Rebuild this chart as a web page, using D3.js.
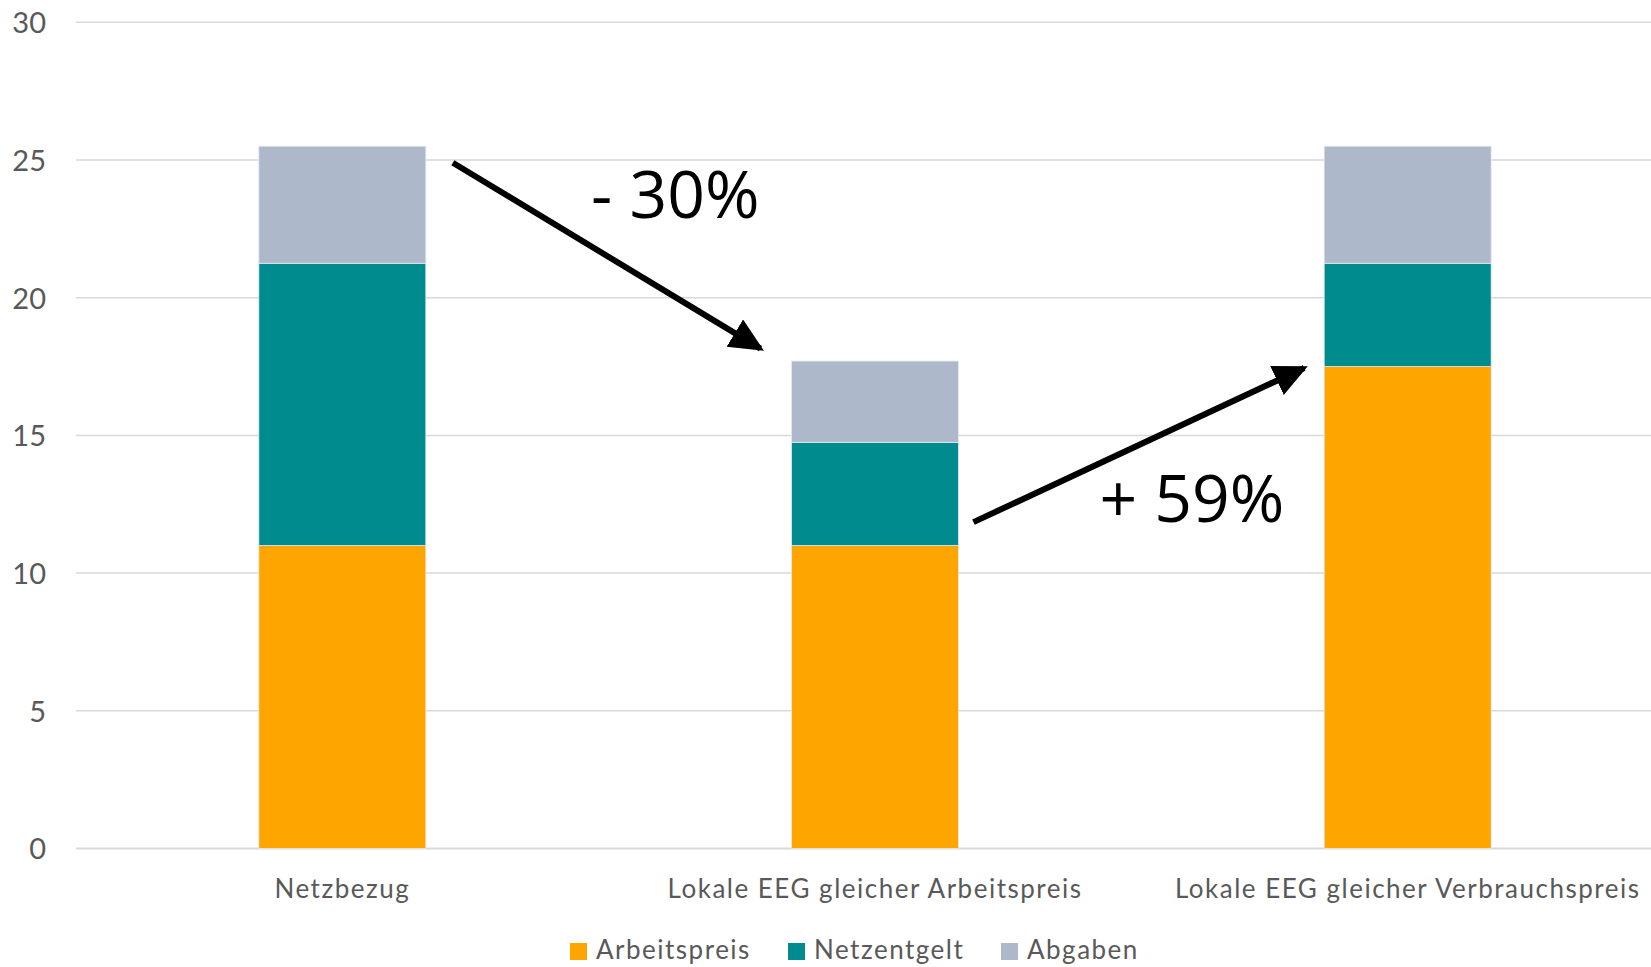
<!DOCTYPE html>
<html><head><meta charset="utf-8">
<script src="https://cdn.jsdelivr.net/npm/d3@7"></script>
<style>html,body{margin:0;padding:0;background:#fff;overflow:hidden}</style>
</head><body>
<svg id="chart" width="1651" height="967"></svg>
<script>
const categories = ["Netzbezug", "Lokale EEG gleicher Arbeitspreis", "Lokale EEG gleicher Verbrauchspreis"];
const seriesNames = ["Arbeitspreis", "Netzentgelt", "Abgaben"];
const arbeitspreis = [11.0, 11.0, 17.5];
const netzentgelt = [10.25, 3.75, 3.75];
const abgaben = [4.25, 2.95, 4.25];
const yTicks = [0, 5, 10, 15, 20, 25, 30];
const colors = ["#FFA500", "#008B8F", "#ADB9CA"];
// annotations: position in category-index units, value units
const annotations = [
  {label: "- 30%", xi: 0.625, y: 22.9},
  {label: "+ 59%", xi: 1.595, y: 11.85}
];
const arrows = [
  {fromI: 0, fromV: 24.9, toI: 1, toV: 18.15},
  {fromI: 1, fromV: 11.85, toI: 2, toV: 17.45}
];

const svg = d3.select("#chart");
const mLeft = 76, mRight = 1674, mTop = 22.3, mBottom = 848.5;
const p = 0.6865;
const x = d3.scaleBand().domain(categories).range([mLeft, mRight]).paddingInner(p).paddingOuter(p/2);
const y = d3.scaleLinear().domain([0, 30]).range([mBottom, mTop]);
const cx = i => x(categories[0]) + x.bandwidth()/2 + i * x.step();

// gridlines
svg.append("g").selectAll("line").data(yTicks).join("line")
  .attr("x1", mLeft).attr("x2", 1651)
  .attr("y1", d => y(d)).attr("y2", d => y(d))
  .attr("stroke", "#d9d9d9").attr("stroke-width", d => d === 0 ? 2 : 1.5);

// y-axis labels
const yAxis = d3.axisLeft(y).tickValues(yTicks).tickSize(0).tickPadding(0);
const ya = svg.append("g").attr("transform", "translate(46,0)").call(yAxis);
ya.select(".domain").remove();
ya.selectAll("text").attr("font-family", "Lato, 'Open Sans', sans-serif").attr("font-size", 29)
  .attr("fill", "#595959").attr("dy", "0.36em");

// stacked data
const table = categories.map((c, i) => ({cat: c, Arbeitspreis: arbeitspreis[i], Netzentgelt: netzentgelt[i], Abgaben: abgaben[i]}));
const stack = d3.stack().keys(seriesNames)(table);
svg.append("g").selectAll("g").data(stack).join("g")
  .attr("fill", (d, i) => colors[i])
  .selectAll("rect").data(d => d).join("rect")
  .attr("x", d => x(d.data.cat)).attr("width", x.bandwidth())
  .attr("y", d => y(d[1])).attr("height", d => y(d[0]) - y(d[1]))
  .attr("stroke", "#e6e9ef").attr("stroke-width", 0.8);

// x-axis labels
const xAxis = d3.axisBottom(x).tickSize(0).tickPadding(0);
const xa = svg.append("g").attr("transform", "translate(0,898)").call(xAxis);
xa.select(".domain").remove();
xa.selectAll("text").attr("font-family", "Lato, 'Open Sans', sans-serif").attr("font-size", 26)
  .attr("fill", "#595959").attr("dy", 0).attr("letter-spacing", 1.5);

// arrows
const defs = svg.append("defs");
defs.append("marker").attr("id", "ah").attr("markerUnits", "userSpaceOnUse")
  .attr("markerWidth", 40).attr("markerHeight", 40).attr("refX", 30).attr("refY", 16)
  .attr("orient", "auto").attr("viewBox", "0 0 40 40")
  .append("path").attr("d", "M0,0 L34,16 L0,32 Z").attr("fill", "#000");

svg.append("g").selectAll("line").data(arrows).join("line")
  .attr("x1", d => x(categories[d.fromI]) + x.bandwidth() + (d.fromI === 0 ? 27 : 15))
  .attr("y1", d => y(d.fromV))
  .attr("x2", d => x(categories[d.toI]) - (d.fromI === 0 ? 31 : 20))
  .attr("y2", d => y(d.toV))
  .attr("stroke", "#000").attr("stroke-width", 6).attr("marker-end", "url(#ah)");

svg.append("g").selectAll("text").data(annotations).join("text")
  .attr("x", d => cx(d.xi)).attr("y", d => y(d.y))
  .attr("text-anchor", "middle")
  .attr("font-family", "'Open Sans', Lato, sans-serif").attr("font-size", 66)
  .attr("fill", "#000").text(d => d.label);

// legend
const legendX = [570, 788, 1001];
seriesNames.forEach((s, i) => {
  const g = svg.append("g").attr("transform", `translate(${legendX[i]},0)`);
  g.append("rect").attr("x", 0).attr("y", 943).attr("width", 17).attr("height", 17).attr("fill", colors[i]);
  g.append("text").attr("x", 26).attr("y", 959).text(s)
    .attr("font-family", "Lato, 'Open Sans', sans-serif").attr("font-size", 26)
    .attr("fill", "#595959").attr("letter-spacing", 1.5);
});
</script>
</body></html>
